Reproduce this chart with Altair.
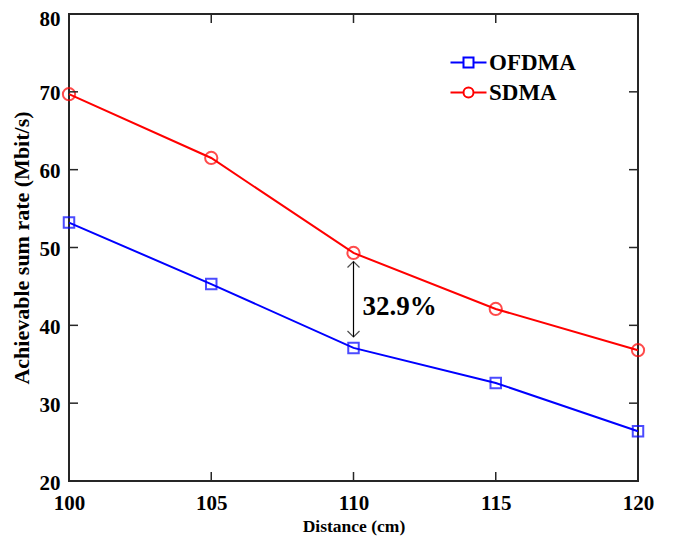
import altair as alt
import pandas as pd

# ---- data ----
distance = [100, 105, 110, 115, 120]
ofdma = [53.2, 45.3, 37.1, 32.6, 26.4]
sdma = [69.7, 61.5, 49.3, 42.1, 36.8]
series_names = ["OFDMA", "SDMA"]
series_colors = ["#0000FF", "#FF0000"]
x_ticks = [100, 105, 110, 115, 120]
y_ticks = [20, 30, 40, 50, 60, 70, 80]
gap_x = [110]
gap_lo = [38.5]
gap_hi = [48.2]
gap_label = ["32.9%"]
gap_label_y = [42.4]

FONT = "Liberation Serif"
W, H = 569, 467

df = pd.DataFrame({
    "Distance": distance * 2,
    "Rate": ofdma + sdma,
    "series": [series_names[0]] * len(distance) + [series_names[1]] * len(distance),
})
xt = pd.DataFrame({"t": x_ticks})
yt = pd.DataFrame({"t": y_ticks})
ann = pd.DataFrame({"x": gap_x, "lo": gap_lo, "hi": gap_hi, "label": gap_label, "ly": gap_label_y})

xs = alt.Scale(domain=[100, 120], nice=False, zero=False)
ys = alt.Scale(domain=[20, 80], nice=False, zero=False)

xaxis = alt.Axis(values=x_ticks, ticks=False, domain=False, grid=False,
                 labelFont=FONT, labelFontSize=21, labelFontWeight="bold", labelColor="black",
                 labelPadding=11, title="Distance (cm)", titleFont=FONT, titleFontSize=17.5,
                 titleFontWeight="bold", titleColor="black", titlePadding=4, labelFlush=False)
yaxis = alt.Axis(values=y_ticks, ticks=False, domain=False, grid=False,
                 labelFont=FONT, labelFontSize=21, labelFontWeight="bold", labelColor="black",
                 labelPadding=9,
                 labelOffset={"condition": {"test": "datum.value == 80", "value": 5}, "value": 2},
                 title="Achievable sum rate (Mbit/s)", titleFont=FONT,
                 titleFontSize=22, titleFontWeight="bold", titleColor="black", titlePadding=6)

base = alt.Chart(df)

sq_path = "M-1.8,0L-0.5,0M0.5,0L1.8,0M-0.5,-0.5L0.5,-0.5L0.5,0.5L-0.5,0.5Z"
ci_path = "M-1.8,0L-0.5,0M0.5,0L1.8,0M0.5,0A0.5,0.5,0,1,1,-0.5,0A0.5,0.5,0,1,1,0.5,0Z"
shape_expr = "datum.value === '%s' ? '%s' : '%s'" % (series_names[0], sq_path, ci_path)

lines = base.mark_line(strokeWidth=2).encode(
    x=alt.X("Distance:Q", scale=xs, axis=xaxis),
    y=alt.Y("Rate:Q", scale=ys, axis=yaxis),
    color=alt.Color("series:N", scale=alt.Scale(domain=series_names, range=series_colors),
                    legend=alt.Legend(title=None, orient="none", legendX=388, legendY=37,
                                      symbolType=alt.ExprRef(expr=shape_expr))),
)

squares = base.transform_filter(alt.datum.series == series_names[0]).mark_point(
    shape="square", size=110, filled=False, strokeWidth=2, color=series_colors[0]
).encode(x=alt.X("Distance:Q", scale=xs), y=alt.Y("Rate:Q", scale=ys))

circles = base.transform_filter(alt.datum.series == series_names[1]).mark_point(
    shape="circle", size=150, filled=False, strokeWidth=2, color=series_colors[1]
).encode(x=alt.X("Distance:Q", scale=xs), y=alt.Y("Rate:Q", scale=ys))

tick_style = dict(color="#262626", strokeWidth=1.5)
xt_bottom = alt.Chart(xt).mark_rule(**tick_style).encode(
    x=alt.X("t:Q", scale=xs), y=alt.value(H), y2=alt.value(H - 9))
xt_top = alt.Chart(xt).mark_rule(**tick_style).encode(
    x=alt.X("t:Q", scale=xs), y=alt.value(0), y2=alt.value(9))
yt_left = alt.Chart(yt).mark_rule(**tick_style).encode(
    y=alt.Y("t:Q", scale=ys), x=alt.value(0), x2=alt.value(9))
yt_right = alt.Chart(yt).mark_rule(**tick_style).encode(
    y=alt.Y("t:Q", scale=ys), x=alt.value(W), x2=alt.value(W - 9))

arrow_shaft = alt.Chart(ann).mark_rule(color="black", strokeWidth=1.2).encode(
    x=alt.X("x:Q", scale=xs), y=alt.Y("lo:Q", scale=ys), y2="hi:Q")
arrow_top = alt.Chart(ann).mark_point(
    shape="M-1,1L0,0L1,1", size=144, filled=False, color="black", strokeWidth=1.2
).encode(x=alt.X("x:Q", scale=xs), y=alt.Y("hi:Q", scale=ys))
arrow_bot = alt.Chart(ann).mark_point(
    shape="M-1,-1L0,0L1,-1", size=144, filled=False, color="black", strokeWidth=1.2
).encode(x=alt.X("x:Q", scale=xs), y=alt.Y("lo:Q", scale=ys))
ann_text = alt.Chart(ann).mark_text(
    align="left", baseline="middle", dx=9, font=FONT, fontSize=27, fontWeight="bold", color="black"
).encode(x=alt.X("x:Q", scale=xs), y=alt.Y("ly:Q", scale=ys), text="label:N")

chart = alt.layer(
    lines, squares, circles,
    xt_bottom, xt_top, yt_left, yt_right,
    arrow_shaft, arrow_top, arrow_bot, ann_text,
).properties(
    width=W, height=H,
    autosize=alt.AutoSizeParams(type="none"),
    padding={"left": 61, "top": 6, "right": 20, "bottom": 57},
).configure_view(
    stroke="#262626", strokeWidth=2
).configure_legend(
    labelFont=FONT, labelFontSize=23, labelFontWeight="bold", labelColor="black",
    symbolSize=400, symbolStrokeWidth=2, labelOffset=9, rowPadding=6, padding=0,
)

chart.save("out.html", embed_options={"renderer": "svg", "actions": False})
